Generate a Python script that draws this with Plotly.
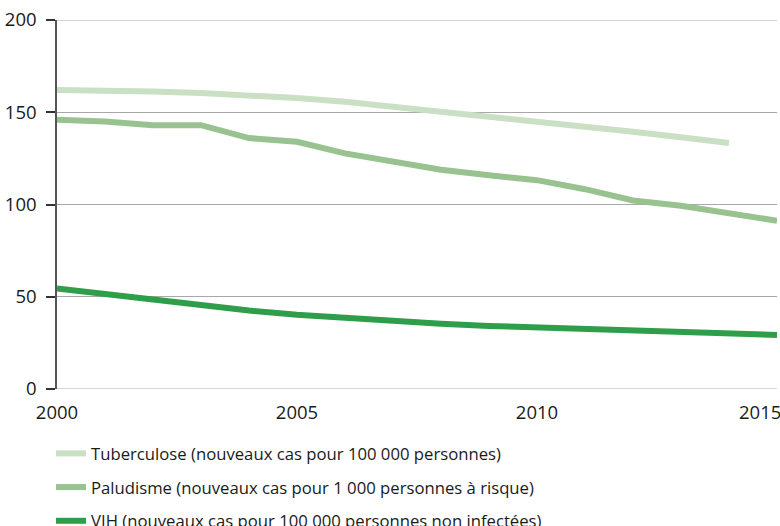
import plotly.graph_objects as go

years = list(range(2000, 2016))
tb_years = list(range(2000, 2015))
tuberculose = [162, 161.8, 161.3, 160.4, 159.2, 157.7, 155.7, 153.1, 150.2, 147.3, 144.5, 142.0, 139.4, 136.5, 133.3]
paludisme = [146, 145, 143, 143, 136, 134, 127.7, 123, 118.8, 115.8, 113.2, 108.3, 102.2, 99.3, 95.2, 91.2]
vih = [54.5, 51.5, 48.3, 45.3, 42.5, 40.2, 38.4, 37.0, 35.4, 34.2, 33.3, 32.5, 31.7, 31.0, 30.2, 29.3]

names = [
    "Tuberculose (nouveaux cas pour 100 000 personnes)",
    "Paludisme (nouveaux cas pour 1 000 personnes à risque)",
    "VIH (nouveaux cas pour 100 000 personnes non infectées)",
]
colors = ["#c9e0c4", "#98c28f", "#2e9e4a"]
y_ticks = [0, 50, 100, 150, 200]
x_ticks = [2000, 2005, 2010, 2015]
x_labels = ["2000", "2005", "2010", "2015" + "\u00a0" * 7]

font_family = "'Open Sans', 'DejaVu Sans', sans-serif"

fig = go.Figure()
for i, (xs, ys) in enumerate([(tb_years, tuberculose), (years, paludisme), (years, vih)]):
    fig.add_trace(go.Scatter(
        x=xs, y=ys, mode="lines", name=names[i], legendgroup=str(i),
        line=dict(color=colors[i], width=6),
        cliponaxis=False,
    ))

fig.update_layout(
    width=780, height=526,
    margin=dict(l=57, r=3, t=20, b=137, autoexpand=False),
    paper_bgcolor="white", plot_bgcolor="white",
    font=dict(family=font_family, size=16, color="#1a1a1a"),
    showlegend=True,
    legend=dict(
        x=-0.0083, xanchor="left", y=-0.1274, yanchor="top",
        orientation="v", tracegroupgap=9,
        font=dict(size=16.7, color="#1a1a1a"),
        itemwidth=30, bgcolor="rgba(0,0,0,0)",
    ),
    xaxis=dict(
        range=[2000, 2015], tickvals=x_ticks, ticktext=x_labels,
        showgrid=False, zeroline=False, showline=False, ticks="",
        tickfont=dict(size=18.5), ticklabelstandoff=10, automargin=False,
        ticklabeloverflow="allow",
    ),
    yaxis=dict(
        range=[0, 200], tickvals=y_ticks,
        showgrid=True, gridcolor="#a8a8a8", gridwidth=1,
        zeroline=False, showline=True, linecolor="#555555", linewidth=1.5,
        ticks="outside", ticklen=9, tickcolor="#333333", tickwidth=1.5,
        tickfont=dict(size=18.5), ticklabelstandoff=6, automargin=False,
        ticklabeloverflow="allow",
    ),
)
# light baseline at zero and top grid line
fig.add_hline(y=0, line=dict(color="#c8c8c8", width=1.5), layer="below")
fig.add_hline(y=200, line=dict(color="#a8a8a8", width=1), layer="below")

fig.write_html(
    "out.html",
    config={"displayModeBar": False},
    post_script="document.body.style.margin='0';document.body.style.overflow='hidden';",
)
